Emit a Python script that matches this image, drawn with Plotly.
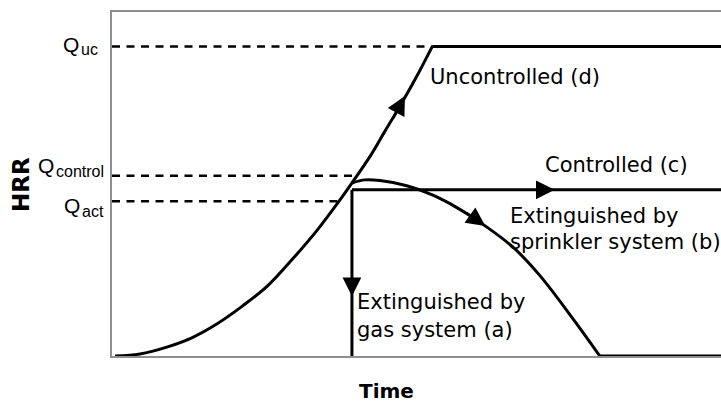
import plotly.graph_objects as go

# ---- data (time and HRR in arbitrary units) ----
growth_time = [0.5, 4.6, 9.0, 13.1, 17.2, 21.4, 25.5, 29.6, 33.7, 37.4, 39.4, 42.4, 44.8, 47.3, 49.8, 52.6]
growth_hrr = [0, 0.6, 2.6, 5.3, 9.3, 14.5, 20.3, 28.1, 36.6, 45.3, 50.3, 58.1, 65.3, 72.7, 80.5, 90]

uc_plateau_time = [52.6, 100]
uc_plateau_hrr = [90, 90]

sprinkler_time = [39.4, 41.5, 44.0, 48.4, 52.7, 55.5, 59.9, 65.8, 70.3, 75.7, 80.1]
sprinkler_hrr = [50.3, 51.2, 51.0, 49.5, 46.8, 44.3, 39.5, 31.7, 23.3, 10.8, 0]

sprinkler_end_time = [80.1, 100]
sprinkler_end_hrr = [0, 0]

controlled_time = [39.4, 100]
controlled_hrr = [48.3, 48.3]

gas_time = [39.4, 39.4]
gas_hrr = [48.3, 0]

# arrow heads: (tail, tip) along each path
arrow_time = [(46.0, 48.1), (58.0, 61.3), (69.5, 72.7), (39.4, 39.4)]
arrow_hrr = [(68.6, 75.6), (41.9, 37.8), (48.3, 48.3), (23.3, 17.4)]

level_main = ["Q", "Q", "Q"]
level_sub = ["uc", "control", "act"]
level_values = [90, 52.4, 45]
level_end_time = [52.6, 39.6, 37.0]

BLACK = "#000000"
GRAY = "#8f8f8f"

fig = go.Figure()

# dashed reference levels
for v, tend in zip(level_values, level_end_time):
    fig.add_trace(go.Scatter(x=[0, tend], y=[v, v], mode="lines",
                             line=dict(color=BLACK, width=2.5, dash="8px,6.5px"),
                             hoverinfo="skip", showlegend=False, cliponaxis=False))

solid = dict(color=BLACK, width=3)
fig.add_trace(go.Scatter(x=growth_time, y=growth_hrr, mode="lines",
                         line=dict(solid, shape="spline"), showlegend=False, cliponaxis=False))
fig.add_trace(go.Scatter(x=uc_plateau_time, y=uc_plateau_hrr, mode="lines",
                         line=solid, showlegend=False, cliponaxis=False))
fig.add_trace(go.Scatter(x=sprinkler_time, y=sprinkler_hrr, mode="lines",
                         line=dict(solid, shape="spline"), showlegend=False, cliponaxis=False))
fig.add_trace(go.Scatter(x=sprinkler_end_time, y=sprinkler_end_hrr, mode="lines",
                         line=solid, showlegend=False, cliponaxis=False))
fig.add_trace(go.Scatter(x=controlled_time, y=controlled_hrr, mode="lines",
                         line=solid, showlegend=False, cliponaxis=False))
fig.add_trace(go.Scatter(x=gas_time, y=gas_hrr, mode="lines",
                         line=solid, showlegend=False, cliponaxis=False))

annotations = []

for (sx, tx), (sy, ty) in zip(arrow_time, arrow_hrr):
    annotations.append(dict(x=tx, y=ty, ax=sx, ay=sy, xref="x", yref="y",
                            axref="x", ayref="y", text="", showarrow=True,
                            arrowhead=2, arrowsize=1.5, arrowwidth=2.5,
                            arrowcolor=BLACK, standoff=0, startstandoff=0))

label_font = dict(family="DejaVu Sans, Verdana, sans-serif", size=21, color=BLACK)
curve_labels = [
    ("Uncontrolled (d)", 52.0, 81.1),
    ("Controlled (c)", 70.9, 55.5),
    ("Extinguished by", 65.2, 40.8),
    ("sprinkler system (b)", 65.2, 33.0),
    ("Extinguished by", 40.0, 15.6),
    ("gas system (a)", 40.0, 7.7),
]
for txt, x, y in curve_labels:
    annotations.append(dict(x=x, y=y, xref="x", yref="y", text=txt, showarrow=False,
                            xanchor="left", yanchor="middle", align="left",
                            font=label_font, borderpad=0))

q_font = dict(family="Liberation Sans, Arial, sans-serif", size=21, color=BLACK)
sub_font = dict(family="Liberation Sans, Arial, sans-serif", size=16, color=BLACK)
# (junction x, Q middle y, subscript middle y) in paper units
q_pos = [(-0.0525, 0.9055, 0.891), (-0.0928, 0.5538, 0.5372), (-0.0501, 0.4375, 0.4209)]
for main, sub, (xj, ym, ys) in zip(level_main, level_sub, q_pos):
    annotations.append(dict(x=xj, y=ym, xref="paper", yref="paper", text=main, showarrow=False,
                            xanchor="right", yanchor="middle", font=q_font, borderpad=0))
    annotations.append(dict(x=xj, y=ys, xref="paper", yref="paper", text=sub, showarrow=False,
                            xanchor="left", yanchor="middle", font=sub_font, borderpad=0))

annotations.append(dict(x=-0.1494, y=0.497, xref="paper", yref="paper", text="HRR",
                        showarrow=False, textangle=-90, xanchor="center", yanchor="middle",
                        font=dict(family="DejaVu Sans, Verdana, sans-serif", size=23,
                                  color=BLACK, weight="bold")))
annotations.append(dict(x=0.450, y=-0.1017, xref="paper", yref="paper", text="Time",
                        showarrow=False, xanchor="center", yanchor="middle",
                        font=dict(family="DejaVu Sans, Verdana, sans-serif", size=20,
                                  color=BLACK, weight="bold")))

fig.update_layout(
    width=721, height=406,
    margin=dict(l=112, r=0, t=12, b=50),
    paper_bgcolor="white", plot_bgcolor="white",
    annotations=annotations,
    xaxis=dict(range=[0, 100], showline=True, linecolor=GRAY, linewidth=2, mirror=True,
               showgrid=False, zeroline=False, showticklabels=False, ticks=""),
    yaxis=dict(range=[0, 100], showline=True, linecolor=GRAY, linewidth=2, mirror=False,
               showgrid=False, zeroline=False, showticklabels=False, ticks=""),
)

fig.write_html("out.html", config={"displayModeBar": False},
               post_script="document.body.style.margin='0px';document.body.style.overflow='hidden';")
